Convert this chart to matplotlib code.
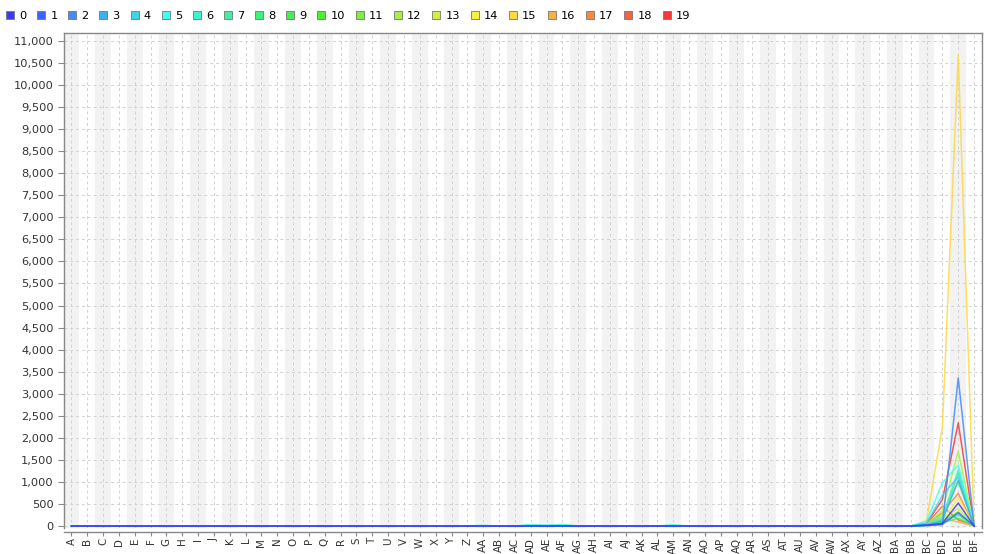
import matplotlib
matplotlib.use("Agg")
import matplotlib.pyplot as plt
from matplotlib.lines import Line2D
from matplotlib.ticker import FuncFormatter, MultipleLocator

categories = ["A", "B", "C", "D", "E", "F", "G", "H", "I", "J", "K", "L", "M",
              "N", "O", "P", "Q", "R", "S", "T", "U", "V", "W", "X", "Y", "Z",
              "AA", "AB", "AC", "AD", "AE", "AF", "AG", "AH", "AI", "AJ", "AK",
              "AL", "AM", "AN", "AO", "AP", "AQ", "AR", "AS", "AT", "AU", "AV",
              "AW", "AX", "AY", "AZ", "BA", "BB", "BC", "BD", "BE", "BF"]

series_names = [str(i) for i in range(20)]

# values along A..BB are flat at (nearly) zero for every series
flat = [0] * 54

# values at BC, BD, BE, BF for each series
tail = {
    "0":  [20, 60, 520, 0],
    "1":  [15, 40, 300, 0],
    "2":  [10, 30, 3360, 0],
    "3":  [25, 120, 1040, 0],
    "4":  [60, 700, 1110, 0],
    "5":  [110, 980, 1380, 0],
    "6":  [40, 200, 1270, 0],
    "7":  [30, 150, 1200, 0],
    "8":  [20, 90, 250, 0],
    "9":  [15, 70, 180, 0],
    "10": [20, 100, 320, 0],
    "11": [30, 250, 1000, 0],
    "12": [40, 350, 1690, 0],
    "13": [25, 160, 400, 0],
    "14": [35, 120, 630, 0],
    "15": [120, 2250, 10680, 0],
    "16": [30, 180, 90, 0],
    "17": [45, 300, 740, 0],
    "18": [50, 450, 140, 0],
    "19": [60, 600, 2340, 0],
}

# small bumps along the baseline (series 5 and 6)
bump_5 = [0, 0, 0, 0, 0, 0, 0, 0, 0, 0, 0, 0, 0, 0, 0, 0, 0, 0, 0, 0, 0, 0, 0, 0,
          0, 0, 0, 0, 0, 30, 20, 35, 0, 0, 0, 0, 0, 0, 25, 0, 0, 0, 0, 0, 0, 0, 0, 0,
          0, 0, 0, 0, 0, 0]
bump_6 = [0, 0, 0, 0, 0, 0, 0, 0, 0, 0, 0, 0, 0, 0, 0, 0, 0, 0, 0, 0, 0, 0, 0, 0,
          0, 0, 15, 0, 0, 20, 10, 25, 0, 0, 0, 0, 0, 0, 15, 0, 0, 0, 0, 0, 0, 0, 0, 0,
          0, 0, 0, 0, 0, 0]

colors = ["#3a3aff", "#3a64ff", "#3f8cff", "#40aef0", "#40d2f0", "#40fff0",
          "#40f0c8", "#40f0a0", "#40f078", "#40f050", "#48f030", "#80f040",
          "#a8f040", "#d0f040", "#f8f040", "#ffd840", "#f8b040", "#f88840",
          "#f86040", "#f83838"]

values = {}
for name in series_names:
    if name == "5":
        base = bump_5
    elif name == "6":
        base = bump_6
    else:
        base = flat
    values[name] = base + tail[name]

fig = plt.figure(figsize=(9.93, 5.54), dpi=100)
ax = fig.add_axes([64 / 993, (554 - 528) / 554, (982 - 64) / 993, (528 - 33) / 554])

x = list(range(len(categories)))

# alternating bands
for i in x:
    if i % 2 == 0:
        ax.axvspan(i - 0.5, i + 0.5, color="#f2f2f2", zorder=0, lw=0)

ax.set_xlim(-0.47, len(categories) - 0.5)
ax.set_ylim(-45, 11180)

ax.yaxis.set_major_locator(MultipleLocator(500))
ax.yaxis.set_major_formatter(FuncFormatter(lambda v, p: f"{int(v):,}"))
ax.set_xticks(x)
ax.set_xticklabels(categories)

ax.grid(True, color="#d2d2d2", linestyle=(0, (3, 3)), linewidth=0.7, zorder=1)
ax.set_axisbelow(True)

n = len(series_names)
for k, name in enumerate(series_names):
    ax.plot(x, values[name], color=colors[k], lw=1.1, alpha=0.85,
            zorder=10 + (n - k))

for s in ["top", "right", "left", "bottom"]:
    ax.spines[s].set_color("#888888")
    ax.spines[s].set_linewidth(1.0)
ax.spines["bottom"].set_position(("outward", 3))

ax.tick_params(axis="y", colors="#888888", labelcolor="#333333",
               labelsize=8.2, length=4, width=0.8, direction="out")
ax.tick_params(axis="x", colors="#888888", labelcolor="#333333",
               labelsize=7.4, length=3, width=0.8, direction="out",
               pad=1, labelrotation=90)

handles = [Line2D([], [], marker="s", linestyle="none", markersize=6,
                  markerfacecolor=c, markeredgecolor="#777777",
                  markeredgewidth=0.6) for c in colors]
fig.legend(handles, series_names, loc="upper left", ncol=20,
           bbox_to_anchor=(6 / 993, 1 - 11 / 554), frameon=False,
           fontsize=8.2, handlelength=0.7, handletextpad=0.45,
           columnspacing=0.95, borderpad=0, borderaxespad=0)

fig.savefig("out.png", dpi=100)
